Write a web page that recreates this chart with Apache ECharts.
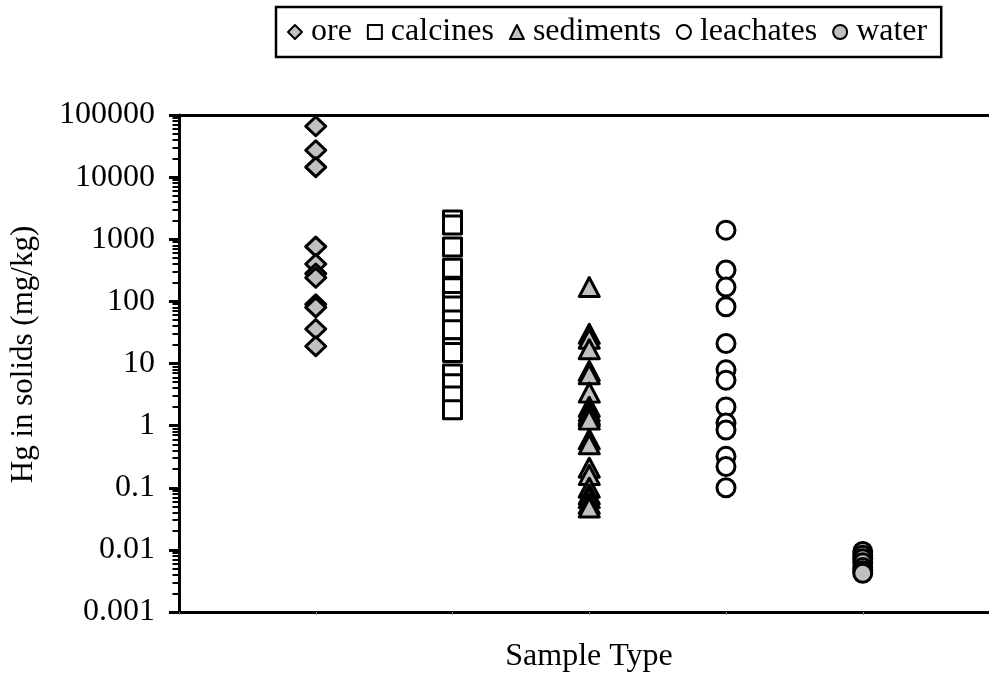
<!DOCTYPE html>
<html>
<head>
<meta charset="utf-8">
<script src="https://cdn.jsdelivr.net/npm/echarts@6/dist/echarts.min.js"></script>
<style>html,body{margin:0;padding:0;background:#fff;}#c{width:989px;height:698px;}</style>
</head>
<body>
<div id="c"></div>
<script>
// Data
const categories = ["ore", "calcines", "sediments", "leachates", "water"];
const ore = [66000, 27000, 14500, 760, 400, 280, 240, 90, 80, 36, 19];
const calcines = [2050, 1700, 750, 340, 165, 100, 84, 50, 35, 18, 15, 6.8, 4.7, 3.0, 1.8];
const sediments = [170, 30, 25, 17, 7.6, 6.7, 3.4, 2.0, 1.7, 1.5, 1.4, 1.25, 0.6, 0.5, 0.21, 0.16, 0.1, 0.078, 0.068, 0.055, 0.048];
const leachates = [1400, 320, 170, 82, 21, 7.9, 5.4, 2.0, 1.1, 0.85, 0.32, 0.22, 0.1];
const water = [0.0094, 0.0082, 0.0072, 0.0062, 0.0052, 0.0046, 0.0042];
const yTickLabels = ["0.001", "0.01", "0.1", "1", "10", "100", "1000", "10000", "100000"];
const xAxisTitle = "Sample Type";
const yAxisTitle = "Hg in solids (mg/kg)";

const seriesValues = [ore, calcines, sediments, leachates, water];
const symbols = ["diamond", "rect", "triangle", "circle", "circle"];
const symbolSizes = [[20, 19], 18, [20, 19], 18, 18];
const fills = ["#c0c0c0", "#ffffff", "#c0c0c0", "#ffffff", "#c0c0c0"];

// minor tick values (2..9 per decade)
const minorTicks = [];
for (let d = -3; d < 5; d++) {
  for (let k = 2; k <= 9; k++) minorTicks.push(parseFloat((k * Math.pow(10, d)).toPrecision(6)));
}

const FONT = "Liberation Serif";
const XMAX = 810 / 136.75;
const chart = echarts.init(document.getElementById('c'), null, {renderer: 'canvas'});

const series = categories.map((name, i) => ({
  name: name,
  type: 'scatter',
  xAxisIndex: 0,
  yAxisIndex: 0,
  symbol: symbols[i],
  symbolSize: symbolSizes[i],
  itemStyle: {color: fills[i], borderColor: '#000', borderWidth: 3, borderJoin: 'round', opacity: 1},
  emphasis: {disabled: true},
  data: seriesValues[i].map(v => [i + 1, v])
}));

chart.setOption({
  animation: false,
  backgroundColor: '#fff',
  textStyle: {fontFamily: FONT},
  legend: {
    left: 276, top: 7,
    itemWidth: 14, itemHeight: 14, itemGap: 15,
    padding: [9, 14, 9, 11],
    borderColor: '#000', borderWidth: 2.5,
    selectedMode: false,
    textStyle: {fontFamily: FONT, fontSize: 32, color: '#000', padding: [0, 0, 0, 4]},
    data: categories
  },
  grid: [
    {left: 179, top: 115, right: 0, height: 497, containLabel: false},
    {left: 179, top: 115, right: 0, height: 497, containLabel: false}
  ],
  xAxis: [
    {
      type: 'value', gridIndex: 0, min: 0, max: XMAX, interval: 1, position: 'bottom',
      name: xAxisTitle, nameLocation: 'middle', nameGap: 29,
      nameTextStyle: {fontFamily: FONT, fontSize: 32, color: '#000', padding: [0, 0, 0, 10]},
      axisLine: {show: true, lineStyle: {color: '#000', width: 3}},
      axisTick: {show: true, length: 3, lineStyle: {color: '#888', width: 1}},
      axisLabel: {show: false},
      splitLine: {show: false}
    },
    {
      type: 'value', gridIndex: 1, min: 0, max: XMAX, interval: 1, position: 'top',
      axisLine: {show: true, lineStyle: {color: '#000', width: 3}},
      axisTick: {show: false}, axisLabel: {show: false}, splitLine: {show: false}
    }
  ],
  yAxis: [
    {
      type: 'log', gridIndex: 0, logBase: 10, min: 0.001, max: 100000, position: 'left',
      name: yAxisTitle, nameLocation: 'middle', nameGap: 140,
      nameTextStyle: {fontFamily: FONT, fontSize: 31, color: '#000', padding: [0, 0, 0, 18]},
      axisLine: {show: true, lineStyle: {color: '#000', width: 3}},
      axisTick: {show: true, inside: false, length: 10, lineStyle: {color: '#000', width: 3}},
      axisLabel: {
        show: true, margin: 24, fontFamily: FONT, fontSize: 32, color: '#000',
        formatter: function (v) {
          const s = parseFloat(Number(v).toPrecision(6)).toString();
          return yTickLabels.indexOf(s) >= 0 ? s : '';
        }
      },
      splitLine: {show: false}
    },
    {
      type: 'log', gridIndex: 1, logBase: 10, min: 0.001, max: 100000, position: 'left',
      axisLine: {show: false},
      axisTick: {show: true, inside: false, length: 6.5, customValues: minorTicks, lineStyle: {color: '#000', width: 2}},
      axisLabel: {show: false},
      splitLine: {show: false}
    }
  ],
  series: series
});
</script>
</body>
</html>
